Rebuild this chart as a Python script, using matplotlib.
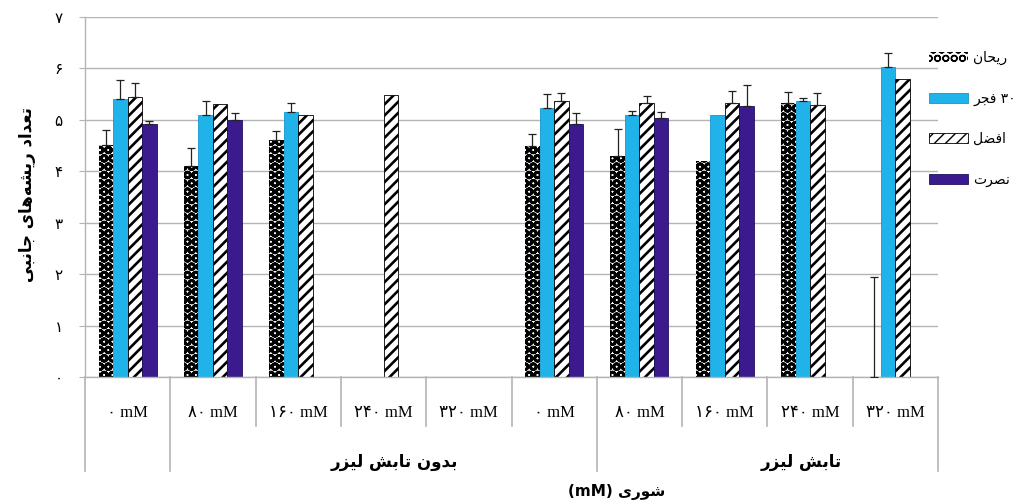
# -*- coding: utf-8 -*-
"""Lateral root count per cultivar under salinity, with and without laser"""

import numpy as np
import matplotlib
matplotlib.use("Agg")
import matplotlib.pyplot as plt

# Data (nan = no bar)
CATEGORIES = ["۰ mM", "۸۰ mM", "۱۶۰ mM", "۲۴۰ mM", "۳۲۰ mM",
              "۰ mM", "۸۰ mM", "۱۶۰ mM", "۲۴۰ mM", "۳۲۰ mM"]
Y_TICK_LABELS = ["۰", "۱", "۲", "۳", "۴", "۵", "۶", "۷"]

rayhan = [4.52, 4.10, 4.60, np.nan, np.nan, 4.49, 4.29, 4.20, 5.33, 0.0]
rayhan_err = [0.28, 0.35, 0.18, 0, 0, 0.23, 0.53, 0, 0.22, 1.95]
fajr = [5.40, 5.10, 5.16, np.nan, np.nan, 5.23, 5.10, 5.10, 5.36, 6.03]
fajr_err = [0.38, 0.27, 0.17, 0, 0, 0.28, 0.08, 0, 0.06, 0.27]
afzal = [5.45, 5.30, 5.10, 5.48, np.nan, 5.36, 5.33, 5.33, 5.28, 5.80]
afzal_err = [0.26, 0, 0, 0, 0, 0.16, 0.14, 0.24, 0.24, 0]
nosrat = [4.91, 5.00, np.nan, np.nan, np.nan, 4.91, 5.03, 5.26, np.nan, np.nan]
nosrat_err = [0.06, 0.13, 0, 0, 0, 0.22, 0.13, 0.42, 0, 0]

# Arabic letter forms: isolated, final, initial, medial
ZWNJ = "\u200c"
FORMS = {
    "ا": ("\uFE8D", "\uFE8E", None, None),
    "ب": ("\uFE8F", "\uFE90", "\uFE91", "\uFE92"),
    "ت": ("\uFE95", "\uFE96", "\uFE97", "\uFE98"),
    "ج": ("\uFE9D", "\uFE9E", "\uFE9F", "\uFEA0"),
    "ح": ("\uFEA1", "\uFEA2", "\uFEA3", "\uFEA4"),
    "د": ("\uFEA9", "\uFEAA", None, None),
    "ر": ("\uFEAD", "\uFEAE", None, None),
    "ز": ("\uFEAF", "\uFEB0", None, None),
    "ش": ("\uFEB5", "\uFEB6", "\uFEB7", "\uFEB8"),
    "ص": ("\uFEB9", "\uFEBA", "\uFEBB", "\uFEBC"),
    "ض": ("\uFEBD", "\uFEBE", "\uFEBF", "\uFEC0"),
    "ع": ("\uFEC9", "\uFECA", "\uFECB", "\uFECC"),
    "ف": ("\uFED1", "\uFED2", "\uFED3", "\uFED4"),
    "ل": ("\uFEDD", "\uFEDE", "\uFEDF", "\uFEE0"),
    "ن": ("\uFEE5", "\uFEE6", "\uFEE7", "\uFEE8"),
    "ه": ("\uFEE9", "\uFEEA", "\uFEEB", "\uFEEC"),
    "و": ("\uFEED", "\uFEEE", None, None),
    "ی": ("\uFBFC", "\uFBFD", "\uFBFE", "\uFBFF"),
}


def rtl(text):
    """Join Arabic letters and put them in visual (left-to-right) order"""
    out = []
    n = len(text)
    for i, ch in enumerate(text):
        forms = FORMS.get(ch)
        if forms is None:
            if ch != ZWNJ:
                out.append(ch)
            continue
        prev = FORMS.get(text[i - 1]) if i > 0 else None
        nxt = FORMS.get(text[i + 1]) if i < n - 1 else None
        join_prev = prev is not None and prev[2] is not None
        join_next = forms[2] is not None and nxt is not None
        if join_prev and join_next:
            out.append(forms[3])
        elif join_prev:
            out.append(forms[1])
        elif join_next:
            out.append(forms[2])
        else:
            out.append(forms[0])
    return "".join(reversed(out))


LEGEND_LABELS = [rtl("ریحان"), rtl("فجر") + " ۳۰", rtl("افضل"), rtl("نصرت")]
GROUP_LABELS = [rtl("بدون تابش لیزر"), rtl("تابش لیزر")]
Y_LABEL = rtl("تعداد ریشه\u200cهای جانبی")
X_LABEL = "(mM) " + rtl("شوری")

GRID = "#b4b4b4"
plt.rcParams["font.family"] = ["DejaVu Sans"]

fig = plt.figure(figsize=(10.24, 5.04), dpi=100)
ax = fig.add_axes([85 / 1024, 127 / 504, 853 / 1024, 360 / 504])

x = np.arange(len(CATEGORIES))
w = 0.17
series = [
    (rayhan, rayhan_err, 2.0,
     dict(facecolor="white", edgecolor="black", hatch="OO", linewidth=0)),
    (fajr, fajr_err, 1.0,
     dict(facecolor="#1fb3ea", edgecolor="#1596cc", linewidth=0.6)),
    (afzal, afzal_err, 1.9,
     dict(facecolor="white", edgecolor="black", hatch="///", linewidth=0.6)),
    (nosrat, nosrat_err, 1.0,
     dict(facecolor="#3a1a8c", edgecolor="#22105e", linewidth=0.6)),
]

handles = []
for k, (vals, errs, hatch_lw, style) in enumerate(series):
    vals = np.array(vals, dtype=float)
    errs = np.array(errs, dtype=float)
    pos = x + (k - 1.5) * w
    ok = ~np.isnan(vals)
    plt.rcParams["hatch.linewidth"] = hatch_lw
    bars = ax.bar(pos[ok], vals[ok], width=w, zorder=2, **style)
    for p in bars:
        if hasattr(p, "set_hatch_linewidth"):
            p.set_hatch_linewidth(hatch_lw)
    handles.append(bars)
    has_err = ok & (errs > 0)
    ax.errorbar(pos[has_err], vals[has_err],
                yerr=[np.zeros(has_err.sum()), errs[has_err]],
                fmt="none", ecolor="#222222", elinewidth=0.9,
                capsize=3, capthick=0.9, zorder=3)

# Axes styling
ax.set_xlim(-0.5, len(CATEGORIES) - 0.5)
ax.set_ylim(0, 7)
ax.set_yticks(range(8))
ax.set_yticklabels(Y_TICK_LABELS, fontsize=11)
ax.yaxis.grid(True, color=GRID, linewidth=1.0)
ax.set_axisbelow(True)
for side in ["top", "right"]:
    ax.spines[side].set_visible(False)
for side in ["left", "bottom"]:
    ax.spines[side].set_color(GRID)
    ax.spines[side].set_linewidth(1.0)
ax.tick_params(axis="y", length=4, color=GRID, pad=12)

ax.set_xticks(x)
ax.set_xticklabels(CATEGORIES, fontsize=12, family=["Liberation Serif", "DejaVu Sans"])
ax.tick_params(axis="x", length=0, pad=20)

# Multi-level category axis lines
trans = ax.get_xaxis_transform()
long_lines = [0, 1, 6, 10]
for b in range(len(CATEGORIES) + 1):
    bottom = -0.26 if b in long_lines else -0.135
    ax.plot([b - 0.5, b - 0.5], [0, bottom], transform=trans,
            color=GRID, linewidth=1.2, clip_on=False)

ax.text(3.13, -0.236, GROUP_LABELS[0], transform=trans, ha="center", va="center",
        fontsize=12, fontweight="bold")
ax.text(7.9, -0.236, GROUP_LABELS[1], transform=trans, ha="center", va="center",
        fontsize=12, fontweight="bold")

fig.text(617 / 1024, 12 / 504, X_LABEL, ha="center", va="center",
         fontsize=11, fontweight="bold")
fig.text(27 / 1024, 309 / 504, Y_LABEL, ha="center", va="center", rotation=90,
         fontsize=12, fontweight="bold")

leg = fig.legend(handles, LEGEND_LABELS, loc="upper left",
                 bbox_to_anchor=(922 / 1024, 460 / 504), frameon=False,
                 fontsize=10, handlelength=2.8, handleheight=0.7,
                 handletextpad=0.4, labelspacing=1.9, borderpad=0)

fig.savefig("out.png", dpi=100)
